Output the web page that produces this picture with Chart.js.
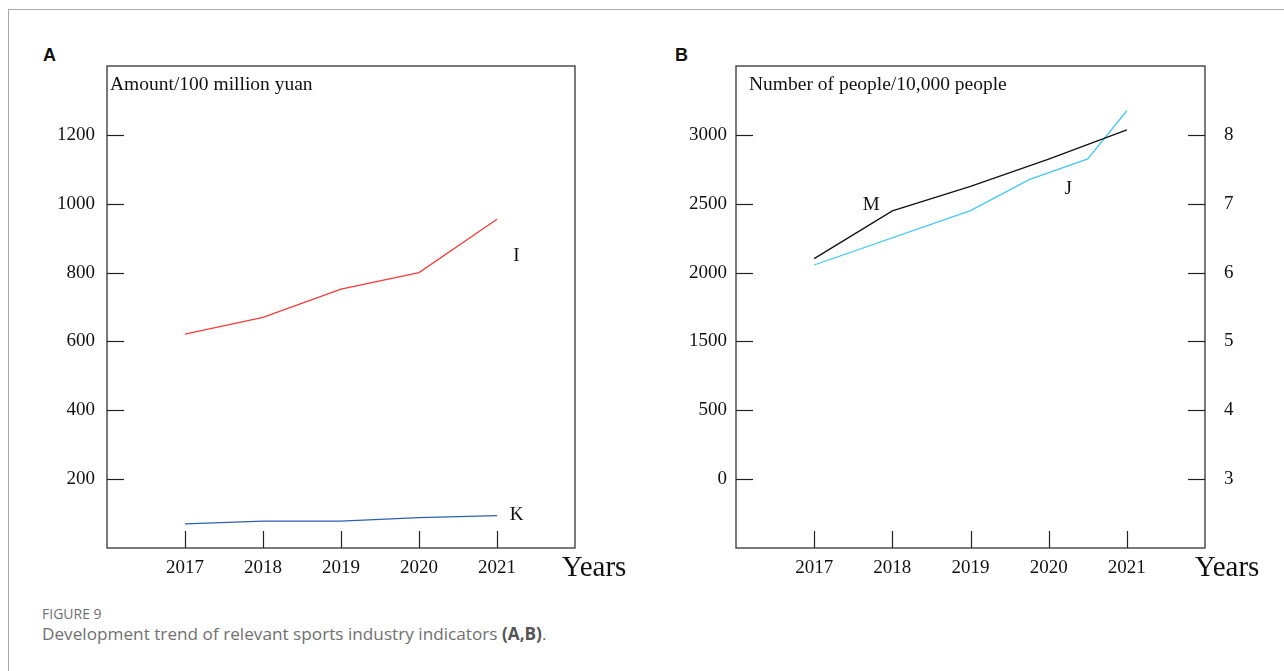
<!DOCTYPE html>
<html>
<head>
<meta charset="utf-8">
<script src="https://cdn.jsdelivr.net/npm/chart.js@4.4.1/dist/chart.umd.min.js"></script>
<style>
  html, body { margin: 0; padding: 0; background: #fff; }
  body { width: 1284px; height: 671px; position: relative; overflow: hidden; }
  .frame { position: absolute; left: 8px; top: 9px; right: -2px; bottom: -2px; border-top: 1.5px solid #a8a8a8; border-left: 1.5px solid #a8a8a8; }
  .panel { position: absolute; top: 0; }
  .letter { position: absolute; font: bold 18px "Liberation Sans", Arial, sans-serif; color: #111; }
  .fig { position: absolute; left: 42px; top: 604px; font: 14px "Open Sans", sans-serif; color: #707070; }
  .cap { position: absolute; left: 42px; top: 622px; font: 17.2px "Open Sans", sans-serif; color: #707070; }
  .cap b { color: #555; }
</style>
</head>
<body>
<div class="frame"></div>
<div class="letter" style="left:43px; top:45px;">A</div>
<div class="letter" style="left:675px; top:45px;">B</div>
<div class="panel" style="left:0px;"><canvas id="chartA" width="640" height="600"></canvas></div>
<div class="panel" style="left:640px;"><canvas id="chartB" width="644" height="600"></canvas></div>
<div class="fig">FIGURE 9</div>
<div class="cap">Development trend of relevant sports industry indicators <b>(A,B)</b>.</div>

<script>
///////////////////////////////// DATA

const years = [2017, 2018, 2019, 2020, 2021];
const amountI = [621, 670, 752, 800, 955];
const amountK = [70, 78, 78, 88, 94];
const peopleM = [2101, 2448, 2626, 2824, 3036];
const yearsJ = [2017, 2019, 2019.75, 2020.5, 2021];
const valuesJ = [6.11, 6.90, 7.35, 7.65, 8.35];

const ticksA = [200, 400, 600, 800, 1000, 1200];
const ticksBLeft = [500, 1000, 1500, 2000, 2500, 3000];
const labelsBLeft = ["0", "500", "1500", "2000", "2500", "3000"];
const ticksBRight = [3, 4, 5, 6, 7, 8];

///////////////////////////////// HELPERS

const serif = "'Liberation Serif', 'Times New Roman', serif";
const tickFont = { family: serif, size: 19 };

function buildTicks(values) {
    return function (scale) {
        scale.ticks = values.map(v => ({ value: v }));
    };
}

function points(xs, ys) {
    return xs.map((x, i) => ({ x: x, y: ys[i] }));
}

function lineSet(label, data, color, axis) {
    return {
        label: label,
        data: data,
        borderColor: color,
        backgroundColor: color,
        borderWidth: 1.3,
        pointRadius: 0,
        tension: 0,
        fill: false,
        yAxisID: axis
    };
}

//pas de traits chart.js, on les dessine nous-mêmes vers l'intérieur
const noGrid = { display: false, drawTicks: false };

function xScale() {
    return {
        type: 'linear',
        min: 2016,
        max: 2022,
        afterBuildTicks: buildTicks(years),
        afterFit: s => { s.height = 52; },
        grid: noGrid,
        border: { display: false },
        ticks: { autoSkip: false, maxRotation: 0, padding: 9, color: '#111', font: tickFont, callback: v => String(v) }
    };
}

//dessine le cadre + petits traits vers l'intérieur
const boxPlugin = {
    id: 'box',
    afterDraw(chart) {
        const ctx = chart.ctx, a = chart.chartArea;
        ctx.save();
        ctx.lineWidth = 1.3;
        ctx.strokeStyle = '#333';
        ctx.strokeRect(a.left, a.top, a.right - a.left, a.bottom - a.top);

        ctx.strokeStyle = '#222';
        ctx.lineWidth = 1.2;
        const len = 17;
        Object.values(chart.scales).forEach(scale => {
            scale.ticks.forEach(t => {
                const p = Math.round(scale.getPixelForValue(t.value)) + 0.5;
                ctx.beginPath();
                if (scale.axis === 'x') {
                    ctx.moveTo(p, a.bottom); ctx.lineTo(p, a.bottom - len);
                } else if (scale.position === 'left') {
                    ctx.moveTo(a.left, p); ctx.lineTo(a.left + len, p);
                } else {
                    ctx.moveTo(a.right, p); ctx.lineTo(a.right - len, p);
                }
                ctx.stroke();
            });
        });
        ctx.restore();
    }
};

//textes dans le graph : titre d'axe, "Years", noms des courbes
const textPlugin = {
    id: 'texts',
    afterDraw(chart, args, opts) {
        const ctx = chart.ctx, a = chart.chartArea;
        ctx.save();
        ctx.fillStyle = '#111';
        ctx.textBaseline = 'middle';

        ctx.font = "19.5px " + serif;
        ctx.textAlign = 'left';
        ctx.fillText(opts.title, a.left + opts.titleDx, a.top + 19);

        ctx.font = "29px " + serif;
        ctx.textAlign = 'center';
        ctx.fillText('Years', a.right + opts.yearsDx, a.bottom + 20);

        ctx.font = "19px " + serif;
        opts.names.forEach(n => {
            const x = chart.scales.x.getPixelForValue(n.x);
            const y = chart.scales[n.axis].getPixelForValue(n.y);
            ctx.fillText(n.text, x, y);
        });
        ctx.restore();
    }
};

///////////////////////////////// GRAPH A

let chartA = new Chart(document.getElementById("chartA"), {
    type: 'line',
    data: {
        datasets: [
            lineSet('I', points(years, amountI), 'rgb(245, 60, 60)', 'y'),
            lineSet('K', points(years, amountK), 'rgb(45, 95, 180)', 'y')
        ]
    },
    plugins: [boxPlugin, textPlugin],
    options: {
        responsive: false,
        animation: false,
        devicePixelRatio: 1,
        layout: { padding: { top: 66, left: 0, right: 65, bottom: 0 } },
        scales: {
            x: xScale(),
            y: {
                type: 'linear',
                position: 'left',
                min: 0,
                max: 1400,
                afterBuildTicks: buildTicks(ticksA),
                afterFit: s => { s.width = 107; },
                grid: noGrid,
                border: { display: false },
                ticks: { padding: 12, color: '#111', font: tickFont, callback: v => String(v) }
            }
        },
        plugins: {
            legend: { display: false },
            tooltip: { enabled: false },
            texts: {
                title: 'Amount/100 million yuan',
                titleDx: 3,
                yearsDx: 19,
                names: [
                    { text: 'I', x: 2021.25, y: 848, axis: 'y' },
                    { text: 'K', x: 2021.25, y: 97, axis: 'y' }
                ]
            }
        }
    }
});

///////////////////////////////// GRAPH B

let chartB = new Chart(document.getElementById("chartB"), {
    type: 'line',
    data: {
        datasets: [
            lineSet('M', points(years, peopleM), '#111', 'y'),
            lineSet('J', points(yearsJ, valuesJ), 'rgb(70, 200, 240)', 'y1')
        ]
    },
    plugins: [boxPlugin, textPlugin],
    options: {
        responsive: false,
        animation: false,
        devicePixelRatio: 1,
        layout: { padding: { top: 66, left: 0, right: 0, bottom: 0 } },
        scales: {
            x: xScale(),
            y: {
                type: 'linear',
                position: 'left',
                min: 0,
                max: 3500,
                afterBuildTicks: buildTicks(ticksBLeft),
                afterFit: s => { s.width = 96; },
                grid: noGrid,
                border: { display: false },
                ticks: {
                    padding: 9, color: '#111', font: tickFont,
                    callback: v => labelsBLeft[ticksBLeft.indexOf(v)]
                }
            },
            y1: {
                type: 'linear',
                position: 'right',
                min: 2,
                max: 9,
                afterBuildTicks: buildTicks(ticksBRight),
                afterFit: s => { s.width = 79; },
                grid: noGrid,
                border: { display: false },
                ticks: { padding: 19, color: '#111', font: tickFont, callback: v => String(v) }
            }
        },
        plugins: {
            legend: { display: false },
            tooltip: { enabled: false },
            texts: {
                title: 'Number of people/10,000 people',
                titleDx: 13,
                yearsDx: 22,
                names: [
                    { text: 'M', x: 2017.73, y: 2490, axis: 'y' },
                    { text: 'J', x: 2020.25, y: 7.22, axis: 'y1' }
                ]
            }
        }
    }
});
</script>
</body>
</html>
